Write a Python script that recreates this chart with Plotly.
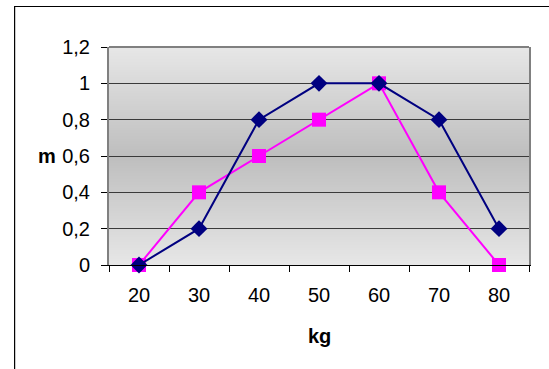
import base64
import struct
import zlib

import plotly.graph_objects as go

# ---- data ----
kg = [20, 30, 40, 50, 60, 70, 80]
series_navy = [0, 0.2, 0.8, 1, 1, 0.8, 0.2]
series_magenta = [0, 0.4, 0.6, 0.8, 1, 0.4, 0]
y_ticks = [0, 0.2, 0.4, 0.6, 0.8, 1.0, 1.2]
y_tick_labels = ["0", "0,2", "0,4", "0,6", "0,8", "1", "1,2"]
x_title = "kg"
y_title = "m"

W, H = 549, 369
ML, MR, MT, MB = 108.5, 20, 47, 104
step = kg[1] - kg[0]
x_range = [kg[0] - step / 2, kg[-1] + step / 2]
x_bounds = [kg[0] - step / 2 + i * step for i in range(len(kg) + 1)]


# ---- vertical gradient background as PNG ----
def gradient_png(n=256, light=231, dark=190):
    rows = b""
    for i in range(n):
        t = i / (n - 1)
        v = int(round(light - (light - dark) * (1 - abs(2 * t - 1))))
        rows += b"\x00" + bytes([v, v, v])

    def chunk(tag, data):
        c = struct.pack(">I", len(data)) + tag + data
        return c + struct.pack(">I", zlib.crc32(tag + data) & 0xFFFFFFFF)

    png = b"\x89PNG\r\n\x1a\n"
    png += chunk(b"IHDR", struct.pack(">IIBBBBB", 1, n, 8, 2, 0, 0, 0))
    png += chunk(b"IDAT", zlib.compress(rows))
    png += chunk(b"IEND", b"")
    return "data:image/png;base64," + base64.b64encode(png).decode()


font = "Liberation Sans, Arial, sans-serif"
FS = 20

fig = go.Figure()
fig.add_trace(go.Scatter(
    x=kg, y=series_magenta, mode="lines+markers",
    line=dict(color="#ff00ff", width=2),
    marker=dict(symbol="square", size=14, color="#ff00ff"),
    showlegend=False, cliponaxis=False,
))
fig.add_trace(go.Scatter(
    x=kg, y=series_navy, mode="lines+markers",
    line=dict(color="#000080", width=2),
    marker=dict(symbol="diamond", size=13, color="#000080"),
    showlegend=False, cliponaxis=False,
))

pw = W - ML - MR
ph = H - MT - MB

fig.update_layout(
    width=W, height=H,
    margin=dict(l=ML, r=MR, t=MT, b=MB, pad=0),
    paper_bgcolor="white", plot_bgcolor="#d0d0d0",
    font=dict(family=font, size=FS, color="black"),
    images=[dict(
        source=gradient_png(), xref="paper", yref="paper",
        x=0, y=1, sizex=1, sizey=1, sizing="stretch",
        xanchor="left", yanchor="top", layer="below",
    )],
    xaxis=dict(
        range=x_range, tickvals=kg, ticktext=[str(v) for v in kg],
        ticks="", showgrid=False, zeroline=False,
        showline=True, linecolor="black", linewidth=1,
        minor=dict(tickvals=x_bounds, ticks="outside", ticklen=6,
                   tickcolor="black", tickwidth=1, showgrid=False),
        tickfont=dict(size=FS),
        ticklabelstandoff=12,
    ),
    yaxis=dict(
        range=[y_ticks[0], y_ticks[-1]], tickvals=y_ticks, ticktext=y_tick_labels,
        ticks="outside", ticklen=6, tickcolor="black", tickwidth=1,
        showgrid=True, gridcolor="#3a3a3a", gridwidth=1,
        zeroline=False, showline=True, linecolor="#808080", linewidth=2,
        mirror=True, tickfont=dict(size=FS), ticklabelstandoff=7,
    ),
    shapes=[
        # top edge of plot area
        dict(type="line", xref="paper", yref="paper", x0=0, x1=1, y0=1, y1=1,
             line=dict(color="#808080", width=2), layer="above"),
        # outer chart border
        dict(type="rect", xref="paper", yref="paper",
             x0=(14 - ML) / pw, x1=(W + 5 - ML) / pw,
             y0=-(MB + 5) / ph, y1=1 + (MT - 6.5) / ph,
             line=dict(color="black", width=1.2), layer="above"),
    ],
    annotations=[
        dict(text="<b>%s</b>" % x_title, x=(kg[0] + kg[-1]) / 2, xref="x",
             y=-(336.5 - (H - MB)) / ph, yref="paper",
             showarrow=False, xanchor="center", yanchor="middle",
             font=dict(size=FS)),
        dict(text="<b>%s</b>" % y_title, x=(57 - ML) / pw, xref="paper",
             y=0.6, yref="y", showarrow=False, xanchor="right",
             yanchor="middle", font=dict(size=FS)),
    ],
)

fig.write_html("out.html")
